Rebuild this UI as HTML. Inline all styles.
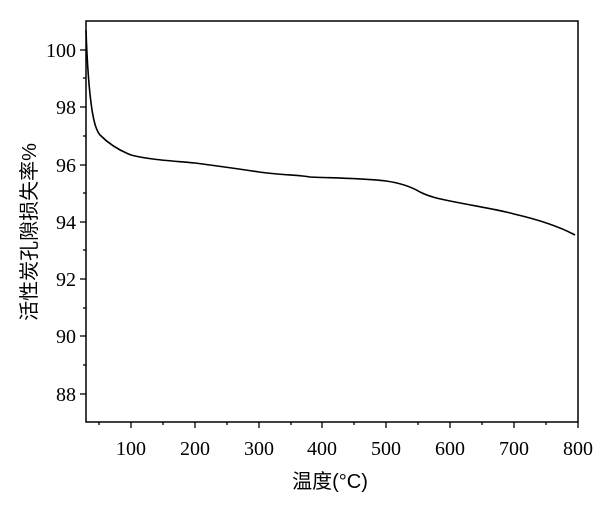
<!DOCTYPE html>
<html><head><meta charset="utf-8"><style>body{margin:0;background:#fff}</style></head><body>
<svg width="600" height="511" viewBox="0 0 600 511" xmlns="http://www.w3.org/2000/svg" font-family="Liberation Serif, serif">
<rect x="86" y="21" width="492" height="401" fill="none" stroke="#000" stroke-width="1.5"/>
<g stroke="#000" stroke-width="1.3">
<line x1="86" y1="50" x2="80" y2="50"/><line x1="86" y1="107" x2="80" y2="107"/><line x1="86" y1="165" x2="80" y2="165"/><line x1="86" y1="222" x2="80" y2="222"/><line x1="86" y1="279" x2="80" y2="279"/><line x1="86" y1="336" x2="80" y2="336"/><line x1="86" y1="394" x2="80" y2="394"/>
<line x1="86" y1="78" x2="83" y2="78"/><line x1="86" y1="136" x2="83" y2="136"/><line x1="86" y1="193" x2="83" y2="193"/><line x1="86" y1="250" x2="83" y2="250"/><line x1="86" y1="308" x2="83" y2="308"/><line x1="86" y1="365" x2="83" y2="365"/>
<line x1="131" y1="422" x2="131" y2="428"/><line x1="195" y1="422" x2="195" y2="428"/><line x1="259" y1="422" x2="259" y2="428"/><line x1="322" y1="422" x2="322" y2="428"/><line x1="386" y1="422" x2="386" y2="428"/><line x1="450" y1="422" x2="450" y2="428"/><line x1="514" y1="422" x2="514" y2="428"/><line x1="578" y1="422" x2="578" y2="428"/>
<line x1="99" y1="422" x2="99" y2="425"/><line x1="163" y1="422" x2="163" y2="425"/><line x1="227" y1="422" x2="227" y2="425"/><line x1="291" y1="422" x2="291" y2="425"/><line x1="354" y1="422" x2="354" y2="425"/><line x1="418" y1="422" x2="418" y2="425"/><line x1="482" y1="422" x2="482" y2="425"/><line x1="546" y1="422" x2="546" y2="425"/>
</g>
<g font-size="20" text-anchor="end">
<text x="76" y="57">100</text><text x="76" y="114">98</text><text x="76" y="172">96</text><text x="76" y="229">94</text><text x="76" y="286">92</text><text x="76" y="343">90</text><text x="76" y="401">88</text>
</g>
<g font-size="20" text-anchor="middle">
<text x="131" y="455">100</text><text x="195" y="455">200</text><text x="259" y="455">300</text><text x="322" y="455">400</text><text x="386" y="455">500</text><text x="450" y="455">600</text><text x="514" y="455">700</text><text x="578" y="455">800</text>
</g>
<text x="330" y="488" font-size="20" text-anchor="middle" font-family="Liberation Sans, Noto Sans CJK SC, sans-serif">温度(°C)</text>
<text transform="translate(36,232) rotate(-90)" font-size="20" text-anchor="middle" font-family="Liberation Sans, Noto Sans CJK SC, sans-serif">活性炭孔隙损失率%</text>
<path d="M86,30 C87,60 89,90 92,110 C94,122 96,130 100,135 C108,143 118,150 131,155 C150,160 175,161 195,163 C225,167 240,169 259,172 C280,175 300,175 310,177 C330,178 360,178 386,181 C400,183 410,186 420,192 C430,197 440,199 450,201 C480,207 500,210 514,214 C540,220 560,227 575,235" fill="none" stroke="#000" stroke-width="1.6"/>
</svg>
</body></html>
